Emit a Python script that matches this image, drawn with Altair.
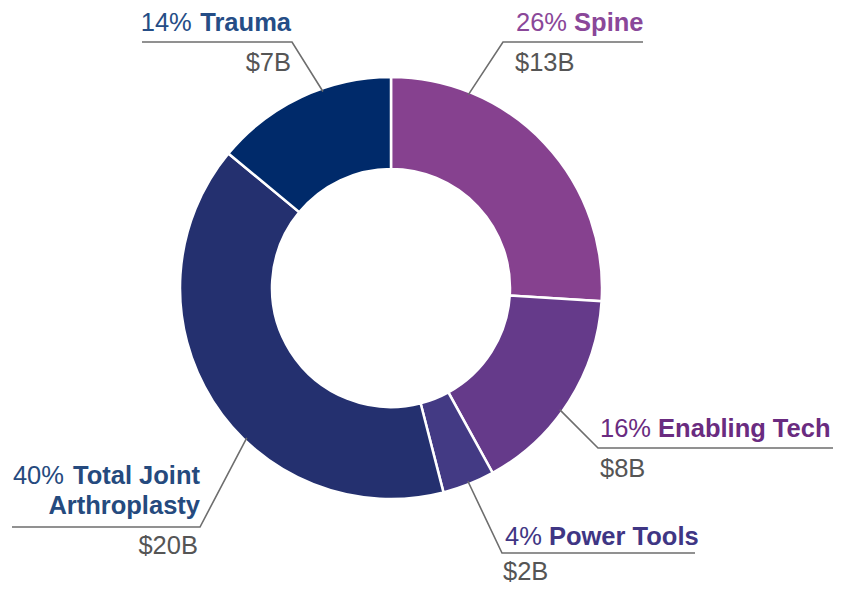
import math
import altair as alt
import pandas as pd

# ---------------- data ----------------
categories = ["Spine", "Enabling Tech", "Power Tools", "Total Joint Arthroplasty", "Trauma"]
shares = [26, 16, 4, 40, 14]            # percent of market
dollars_b = [13, 8, 2, 20, 7]           # $ billions
name_line1 = ["Spine", "Enabling Tech", "Power Tools", "Total Joint", "Trauma"]
name_line2 = ["", "", "", "Arthroplasty", ""]

# ---------------- styles ----------------
slice_colors = ["#86418F", "#653A8A", "#433A84", "#24306F", "#002A6A"]
label_colors = ["#8A4799", "#6A2B80", "#3F3684", "#254A7E", "#254D86"]
line_color = "#6E6E6E"
dollar_color = "#555555"
FONT = "Liberation Sans, Arial, Helvetica, sans-serif"
FS = 25.5

# ---------------- layout (page pixels) ----------------
W, H, OFF = 834, 577, 8
CX, CY, R_OUT, R_IN = 391, 288, 211, 119
R_LEAD = 208
leader_angle = [21.8, 125.8, 158.3, 223.9, 340.9]
side = ["left", "left", "left", "right", "right"]
text_x = [516, 600, 505, 200, 291]
title_y = [31, 437, 545, 484, 31]
LINE2_DY = 30
under_y = [42, 448, 553, 527, 42]
under_x0 = [503, 598, 502, 200, 292]
under_x1 = [643, 833, 695, 12, 142]
dollar_x = [515, 600, 503, 198, 291]
dollar_y = [71, 477, 580, 554, 71]

# Arial / Liberation Sans advance widths (per 1000 em) for measuring labels
REG = {"%": 889, " ": 278}
REG.update({d: 556 for d in "0123456789"})
BOLD = {" ": 278, "T": 611, "r": 389, "a": 556, "u": 611, "m": 889, "S": 667, "p": 611,
        "i": 278, "n": 611, "e": 556, "E": 667, "b": 611, "l": 278, "g": 611, "c": 556,
        "h": 611, "P": 667, "o": 611, "w": 778, "s": 556, "t": 333, "J": 556, "A": 722,
        "y": 556}


def width(s, table):
    return sum(table.get(ch, 600) for ch in s) * FS / 1000.0


# ---------------- frames ----------------
arc_df = pd.DataFrame({
    "cat": categories, "share": shares, "idx": list(range(len(categories))),
    "color": slice_colors,
})

lead_rows = []
for i, c in enumerate(categories):
    a = math.radians(leader_angle[i])
    sx = CX + R_LEAD * math.sin(a)
    sy = CY - R_LEAD * math.cos(a)
    lead_rows += [
        {"cat": c, "k": 0, "x": sx, "y": sy},
        {"cat": c, "k": 1, "x": under_x0[i], "y": under_y[i]},
        {"cat": c, "k": 2, "x": under_x1[i], "y": under_y[i]},
    ]
lead_df = pd.DataFrame(lead_rows)

rows = {("left", "normal"): [], ("left", "bold"): [], ("right", "normal"): [], ("right", "bold"): []}
for i, c in enumerate(categories):
    pct = f"{shares[i]}%"
    col = label_colors[i]
    if side[i] == "left":
        rows[("left", "normal")].append({"x": text_x[i], "y": title_y[i], "t": pct, "color": col})
        nx = text_x[i] + width(pct + " ", REG)
        rows[("left", "bold")].append({"x": nx, "y": title_y[i], "t": name_line1[i], "color": col})
        rows[("left", "normal")].append({"x": dollar_x[i], "y": dollar_y[i],
                                         "t": f"${dollars_b[i]}B", "color": dollar_color})
    else:
        rows[("right", "bold")].append({"x": text_x[i], "y": title_y[i], "t": name_line1[i], "color": col})
        if name_line2[i]:
            rows[("right", "bold")].append({"x": text_x[i], "y": title_y[i] + LINE2_DY,
                                            "t": name_line2[i], "color": col})
        px = text_x[i] - width(name_line1[i], BOLD) - width(" ", REG)
        rows[("right", "normal")].append({"x": px, "y": title_y[i], "t": pct, "color": col})
        rows[("right", "normal")].append({"x": dollar_x[i], "y": dollar_y[i],
                                          "t": f"${dollars_b[i]}B", "color": dollar_color})

xs = alt.Scale(domain=[OFF, OFF + W], nice=False, zero=False)
ys = alt.Scale(domain=[OFF, OFF + H], nice=False, zero=False, reverse=True)

donut = alt.Chart(arc_df).mark_arc(
    innerRadius=R_IN, outerRadius=R_OUT, stroke="white", strokeWidth=2.5
).encode(
    theta=alt.Theta("share:Q", stack=True),
    order=alt.Order("idx:Q"),
    color=alt.Color("color:N", scale=None),
    x=alt.value(CX - OFF),
    y=alt.value(CY - OFF),
)

leaders = alt.Chart(lead_df).mark_line(color=line_color, strokeWidth=1.6).encode(
    x=alt.X("x:Q", scale=xs, axis=None),
    y=alt.Y("y:Q", scale=ys, axis=None),
    detail="cat:N",
    order="k:Q",
)

text_layers = []
for (al, wt), r in rows.items():
    if not r:
        continue
    text_layers.append(
        alt.Chart(pd.DataFrame(r)).mark_text(
            align=al, baseline="alphabetic", font=FONT, fontSize=FS, fontWeight=wt
        ).encode(
            x=alt.X("x:Q", scale=xs, axis=None),
            y=alt.Y("y:Q", scale=ys, axis=None),
            text="t:N",
            color=alt.Color("color:N", scale=None),
        )
    )

chart = alt.layer(donut, leaders, *text_layers).properties(
    width=W, height=H, padding=0, autosize="none"
).configure_view(stroke=None)

chart.save("out.html", embed_options={"renderer": "svg", "actions": False})
